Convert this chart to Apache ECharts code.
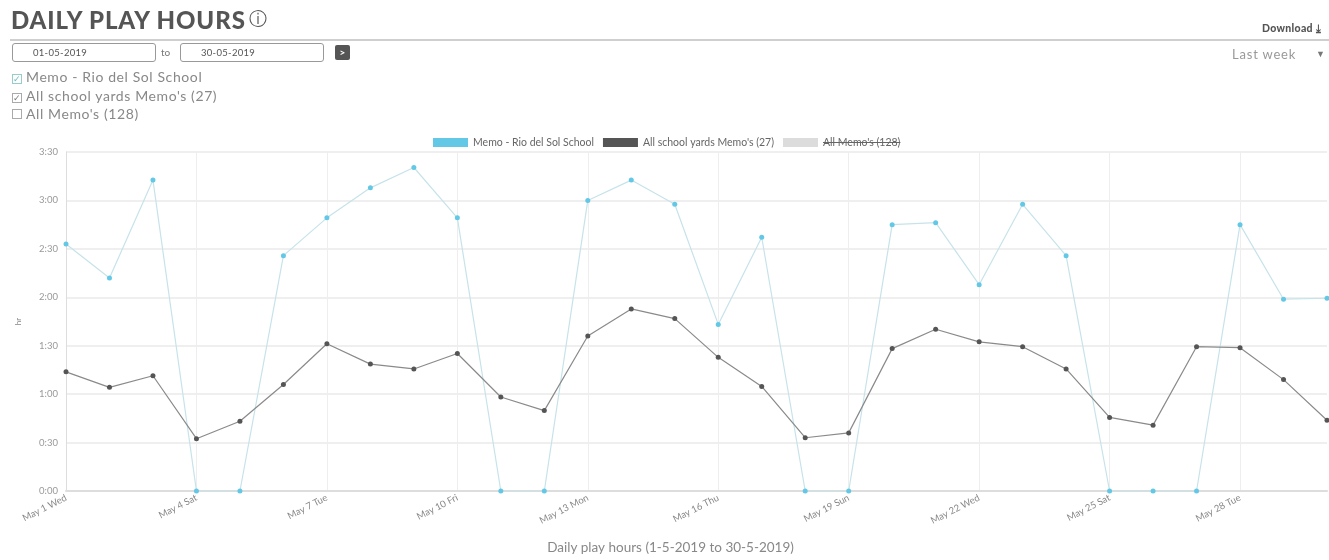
<!DOCTYPE html>
<html>
<head>
<meta charset="utf-8">
<script src="https://cdn.jsdelivr.net/npm/echarts@6/dist/echarts.min.js"></script>
<style>
  html, body { margin: 0; padding: 0; background: #fff; }
  #wrap { position: relative; width: 1329px; height: 560px; overflow: hidden; font-family: Lato, "Open Sans", sans-serif; }
  #chart { position: absolute; left: 0; top: 0; width: 1329px; height: 560px; }
  .abs { position: absolute; white-space: nowrap; }
  #title { left: 11px; top: 5px; font-size: 24px; font-weight: 900; color: #555; letter-spacing: 0.9px; }
  #title span { font-weight: 400; font-size: 18px; vertical-align: 4px; margin-left: 3px; letter-spacing: 0; }
  #rule { left: 10px; top: 39px; width: 1319px; height: 2px; background: #cfcfcf; }
  #dl { right: 8px; top: 22px; font-size: 10.5px; font-weight: 900; color: #555; letter-spacing: 0.3px; }
  .box { top: 43px; height: 17px; border: 1px solid #999; border-radius: 3px; font-size: 9.5px; color: #555; line-height: 17px; padding-left: 20px; box-sizing: content-box; letter-spacing: 0.3px; }
  #d1 { left: 12px; width: 122px; }
  #d2 { left: 180px; width: 122px; }
  #to { left: 161px; top: 46px; font-size: 10px; color: #777; }
  #btn { left: 335px; top: 45px; width: 15px; height: 15px; background: #555; color: #fff; font-size: 10px; line-height: 15px; text-align: center; border-radius: 2px; font-weight: 700; }
  #lw { left: 1232px; top: 46px; font-size: 13px; color: #999; letter-spacing: 0.8px; }
  #lwa { left: 1316px; top: 48px; font-size: 9px; color: #777; }
  .chk { left: 12px; font-size: 14px; color: #888; letter-spacing: 0.6px; }
  .chk i { display: inline-block; width: 8px; height: 8px; border: 1px solid #aaa; margin-right: 4px; font-style: normal; font-size: 9px; line-height: 8px; vertical-align: 0px; letter-spacing: 0; }
</style>
</head>
<body>
<div id="wrap">
  <div id="chart"></div>
  <div class="abs" id="title">DAILY PLAY HOURS<span>ⓘ</span></div>
  <div class="abs" id="rule"></div>
  <div class="abs" id="dl">Download ⤓</div>
  <div class="abs box" id="d1">01-05-2019</div>
  <div class="abs" id="to">to</div>
  <div class="abs box" id="d2">30-05-2019</div>
  <div class="abs" id="btn">&gt;</div>
  <div class="abs" id="lw">Last week</div>
  <div class="abs" id="lwa">▼</div>
  <div class="abs chk" style="top:68px;"><i style="border-color:#9cc;color:#6bb;">✓</i>Memo - Rio del Sol School</div>
  <div class="abs chk" style="top:87px;"><i style="color:#777;">✓</i>All school yards Memo's (27)</div>
  <div class="abs chk" style="top:105px;"><i></i>All Memo's (128)</div>
</div>
<script>
// ---- data ----
const days = ["Wed","Thu","Fri","Sat","Sun","Mon","Tue"];
const categories = [];
for (let d = 1; d <= 30; d++) categories.push("May " + d + " " + days[(d - 1) % 7]);

const seriesNames = ["Memo - Rio del Sol School", "All school yards Memo's (27)", "All Memo's (128)"];

// hours per day (decimal hours)
const memoRioDelSol = [2.55, 2.20, 3.21, 0, 0, 2.43, 2.82, 3.13, 3.34, 2.82,
                       0, 0, 3.00, 3.21, 2.96, 1.72, 2.62, 0, 0, 2.75,
                       2.77, 2.13, 2.96, 2.43, 0, 0, 0, 2.75, 1.98, 1.99];
const allSchoolYards = [1.23, 1.07, 1.19, 0.54, 0.72, 1.10, 1.52, 1.31, 1.26, 1.42,
                        0.97, 0.83, 1.60, 1.88, 1.78, 1.38, 1.08, 0.55, 0.60, 1.47,
                        1.67, 1.54, 1.49, 1.26, 0.76, 0.68, 1.49, 1.48, 1.15, 0.73];
const allMemos = []; // hidden in reference

const yTicks = { min: 0, max: 3.5, interval: 0.5 };
const xAxisTitle = "Daily play hours (1-5-2019 to 30-5-2019)";

function fmtHM(v) {
  const h = Math.floor(v + 1e-9);
  const m = Math.round((v - h) * 60);
  return h + ":" + (m < 10 ? "0" + m : m);
}

const chart = echarts.init(document.getElementById('chart'));
chart.setOption({
  animation: false,
  backgroundColor: '#fff',
  textStyle: { fontFamily: 'Lato, "Open Sans", sans-serif' },
  legend: {
    top: 132, left: 428,
    itemWidth: 35, itemHeight: 9, itemGap: 9,
    icon: 'rect',
    textStyle: { fontSize: 10.5, color: '#666' },
    data: seriesNames
  },
  grid: { left: 66, right: 2, top: 152, bottom: 67, containLabel: false },
  xAxis: {
    type: 'category',
    data: categories,
    boundaryGap: false,
    name: xAxisTitle,
    nameLocation: 'middle',
    nameGap: 50,
    nameTextStyle: { fontSize: 13.5, color: '#888', padding: [0, 52, 0, 0] },
    axisLine: { lineStyle: { color: '#ddd', width: 2 } },
    axisTick: { show: false },
    axisLabel: { interval: 2, rotate: 27, fontSize: 9.5, color: '#888', margin: 6 },
    splitLine: { show: true, interval: 2, lineStyle: { color: '#eee' } }
  },
  yAxis: {
    type: 'value',
    min: yTicks.min, max: yTicks.max, interval: yTicks.interval,
    name: 'hr',
    nameLocation: 'middle',
    nameGap: 44,
    nameRotate: 90,
    nameTextStyle: { fontSize: 8, color: '#888' },
    axisLine: { show: true, lineStyle: { color: '#ddd' } },
    axisTick: { show: false },
    axisLabel: { fontSize: 9.5, color: '#999', margin: 8, formatter: fmtHM },
    splitLine: { lineStyle: { color: '#eaeaea', width: 1.5 } }
  },
  series: [
    {
      name: seriesNames[0], type: 'line', data: memoRioDelSol,
      symbol: 'circle', symbolSize: 5,
      itemStyle: { color: '#63c8e6' },
      lineStyle: { color: '#c6e3ea', width: 1.2 }
    },
    {
      name: seriesNames[1], type: 'line', data: allSchoolYards,
      symbol: 'circle', symbolSize: 5,
      itemStyle: { color: '#555' },
      lineStyle: { color: '#8a8a8a', width: 1.2 }
    },
    {
      name: seriesNames[2], type: 'line', data: allMemos,
      symbol: 'circle', symbolSize: 5,
      itemStyle: { color: '#dcdcdc' },
      lineStyle: { color: '#dcdcdc', width: 1.2 }
    }
  ]
});

// strike-through on the hidden legend entry
setTimeout(function () {
  const legendView = chart.getZr().storage.getDisplayList().filter(function (el) {
    return el.style && el.style.text === seriesNames[2];
  })[0];
  if (legendView) {
    const r = legendView.getBoundingRect().clone();
    r.applyTransform(legendView.getComputedTransform());
    chart.setOption({
      graphic: [{
        type: 'line', silent: true,
        shape: { x1: r.x, y1: r.y + r.height / 2, x2: r.x + r.width, y2: r.y + r.height / 2 },
        style: { stroke: '#666', lineWidth: 1 }
      }]
    });
  }
}, 0);
</script>
</body>
</html>
